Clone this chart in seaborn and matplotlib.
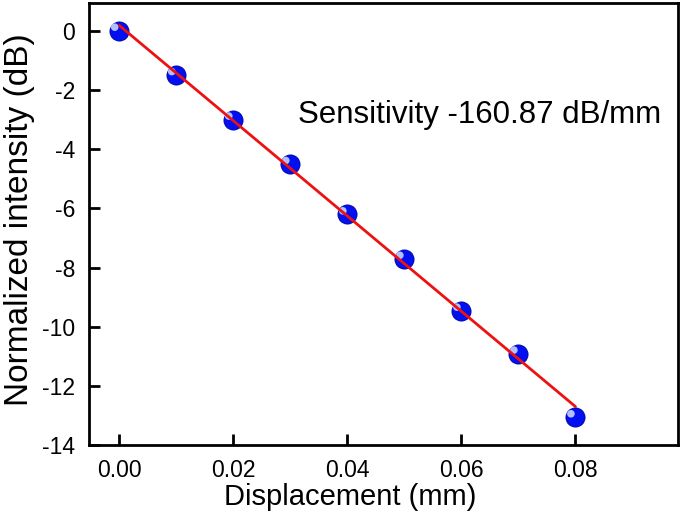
import numpy as np
import pandas as pd
import matplotlib
matplotlib.use("Agg")
import matplotlib.pyplot as plt
import seaborn as sns

displacement = [0.00, 0.01, 0.02, 0.03, 0.04, 0.05, 0.06, 0.07, 0.08]
intensity = [0.0, -1.5, -3.0, -4.5, -6.2, -7.7, -9.45, -10.9, -13.05]
x_ticks = [0.00, 0.02, 0.04, 0.06, 0.08]
y_ticks = [0, -2, -4, -6, -8, -10, -12, -14]
label_text = "Sensitivity -160.87 dB/mm"

df = pd.DataFrame({"disp": displacement, "inten": intensity})

sns.set_style("ticks", {"axes.edgecolor": "black", "xtick.color": "black",
                        "ytick.color": "black", "text.color": "black",
                        "axes.labelcolor": "black"})
plt.rcParams["font.family"] = ["Liberation Sans", "DejaVu Sans"]

fig, ax = plt.subplots(figsize=(6.85, 5.15), dpi=100)

# spheres: blue ball + small highlight
sns.scatterplot(data=df, x="disp", y="inten", s=190, color="#0010f0",
                edgecolor="#0000a0", linewidth=0.6, ax=ax, zorder=2)
sns.scatterplot(x=df["disp"] - 0.0008, y=df["inten"] + 0.12, s=30, color="#c8d4ff",
                edgecolor="none", alpha=0.9, ax=ax, zorder=3)

# linear fit line (drawn over the balls)
slope, intercept = np.polyfit(df["disp"], df["inten"], 1)
fit_x = np.array([displacement[0], displacement[-1]])
sns.lineplot(x=fit_x, y=slope * fit_x + intercept, color="#ee1111", lw=2, ax=ax, zorder=4)

ax.text(0.0314, -2.85, label_text, fontsize=22.5, va="center", ha="left")

ax.set_xlim(-0.0053, 0.098)
ax.set_ylim(-14, 0.95)
ax.set_xticks(x_ticks)
ax.set_xticklabels([f"{v:.2f}" for v in x_ticks])
ax.set_yticks(y_ticks)
ax.set_yticklabels([str(v) for v in y_ticks])
ax.tick_params(direction="in", length=8, width=2, labelsize=16.5, pad=10)
for sp in ax.spines.values():
    sp.set_linewidth(2)
    sp.set_visible(True)
ax.set_xlabel("Displacement (mm)", fontsize=21)
ax.set_ylabel("Normalized intensity (dB)", fontsize=24)
ax.xaxis.set_label_coords(0.443, -0.085)
ax.yaxis.set_label_coords(-0.092, 0.51)

fig.subplots_adjust(left=0.13, right=0.99, top=0.995, bottom=0.135)
fig.savefig("out.png", dpi=100)
